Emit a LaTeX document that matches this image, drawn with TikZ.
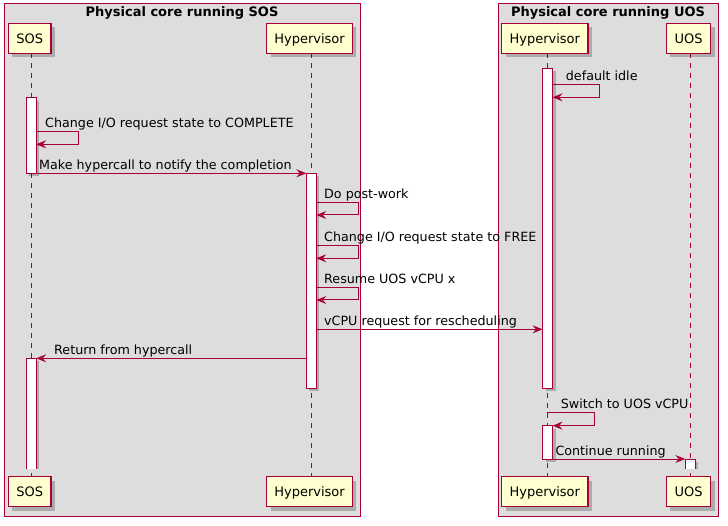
\documentclass[tikz,border=0pt]{standalone}
\usepackage{fontspec}
\setmainfont{DejaVu Sans}
\usetikzlibrary{arrows.meta}
\definecolor{puml}{HTML}{A80036}
\definecolor{pfill}{HTML}{FEFECE}
\definecolor{boxbg}{HTML}{DDDDDD}
\tikzset{
  grp/.style={draw=puml, line width=1pt, fill=boxbg},
  grptitle/.style={anchor=base, inner sep=0, font=\fontsize{13}{15}\selectfont\bfseries},
  part/.style={draw=puml, line width=1.3pt, fill=pfill, minimum height=30, inner sep=0,
     text height=10, text depth=0, font=\fontsize{13}{15}\selectfont},
  pshadow/.style={fill=black, opacity=0.22},
  lifeline/.style={draw=puml, line width=0.9pt, dash pattern=on 5pt off 5pt},
  bar/.style={draw=puml, line width=1pt, fill=white, minimum width=10, inner sep=0, outer sep=0},
  barfill/.style={fill=white, minimum width=10, inner sep=0, outer sep=0},
  msg/.style={draw=puml, line width=1pt, -{Stealth[length=10pt, width=8pt, inset=3.5pt]}},
  lbl/.style={anchor=base west, inner sep=0, font=\fontsize{12.7}{15}\selectfont},
}
\newcommand\partbox[5]{% name, cx, cy, width, text
  \fill[pshadow] ({#2-#4/2+4},{#3-15+4}) rectangle ({#2+#4/2+4},{#3+15+4});
  \node[part, minimum width=#4] (#1) at (#2,#3) {#5};
}
\newcommand\actbar[4]{% name, cx, top, bottom
  \fill[pshadow] ({#2-5+3},{#3+3}) rectangle ({#2+5+3},{#4+3});
  \node[bar, minimum height={#4-#3}] (#1) at (#2,{(#3+#4)/2}) {};
}
\newcommand\openbar[4]{% name, cx, top, bottom (no bottom edge)
  \fill[pshadow] ({#2-5+3},{#3+3}) rectangle ({#2+5+3},{#4});
  \node[barfill, minimum height={#4-#3}] (#1) at (#2,{(#3+#4)/2}) {};
  \draw[draw=puml, line width=1pt] (#1.south west) -- (#1.north west) -- (#1.north east) -- (#1.south east);
}
\begin{document}
\begin{tikzpicture}[x=1pt, y=-1pt]
\useasboundingbox[fill=white] (0,0) rectangle (728,526);

% group boxes
\path[grp] (4,4) rectangle (360,516);
\path[grp] (498.3,4) rectangle (718,516);
\node[grptitle] (t1) at (182,16.3) {Physical core running SOS};
\node[grptitle] (t2) at (608,16.3) {Physical core running UOS};

% lifelines
\coordinate (lsos) at (31.3,53);
\coordinate (lhypA) at (311.3,53);
\coordinate (lhypR) at (547.3,53);
\coordinate (luos) at (690.3,53);
\draw[lifeline] (lsos) -- (31.3,477);
\draw[lifeline] (lhypA) -- (311.3,477);
\draw[lifeline] (lhypR) -- (547.3,477);
\draw[lifeline] (luos) -- (690.3,477);

% participants
\partbox{sosT}{29.7}{38.3}{42.7}{SOS}
\partbox{hypAT}{309.5}{38.3}{85.6}{Hypervisor}
\partbox{hypRT}{544.8}{38.3}{86.3}{Hypervisor}
\partbox{uosT}{688.5}{38.3}{44.4}{UOS}
\partbox{sosB}{29.7}{491.7}{42.7}{SOS}
\partbox{hypAB}{309.5}{491.7}{85.6}{Hypervisor}
\partbox{hypRB}{544.8}{491.7}{86.3}{Hypervisor}
\partbox{uosB}{688.5}{491.7}{44.4}{UOS}

% activation bars
\actbar{sosA}{31.2}{97.7}{173.3}
\actbar{hypA}{311.3}{173.3}{388.3}
\openbar{sosC}{31.2}{358.3}{469}
\actbar{hypR1}{547.5}{68.3}{388.3}
\actbar{hypR2}{547.5}{425.7}{459}
\openbar{uosA}{690.3}{459}{469}

% messages
\draw[msg] (sosA.east |- 0,131.7) -| (78.3,144.3) -- (sosA.east |- 0,144.3);
\node[lbl] (m1) at (45,127.7) {Change I/O request state to COMPLETE};

\draw[msg] (sosA.east |- 0,173.3) -- (hypA.west |- 0,173.3);
\node[lbl] (m2) at (39,169.3) {Make hypercall to notify the completion};

\draw[msg] (hypA.east |- 0,202.7) -| (358.3,215) -- (hypA.east |- 0,215);
\node[lbl] (m3) at (324,198.7) {Do post-work};

\draw[msg] (hypA.east |- 0,245.7) -| (358.3,258.3) -- (hypA.east |- 0,258.3);
\node[lbl] (m4) at (324,241.7) {Change I/O request state to FREE};

\draw[msg] (hypA.east |- 0,287.3) -| (358.3,300) -- (hypA.east |- 0,300);
\node[lbl] (m5) at (324,283.3) {Resume UOS vCPU x};

\draw[msg] (hypA.east |- 0,329.3) -- (hypR1.west |- 0,329.3);
\node[lbl] (m6) at (324,325.3) {vCPU request for rescheduling};

\draw[msg] (hypA.west |- 0,358.3) -- (sosC.east |- 0,358.3);
\node[lbl] (m7) at (54,354.3) {Return from hypercall};

\draw[msg] (hypR1.east |- 0,84.3) -| (599.7,97.3) -- (hypR1.east |- 0,97.3);
\node[lbl] (m8) at (565.7,80.3) {default idle};

\draw[msg] (lhypR |- 0,412.3) -| (594.3,425.7) -- (hypR2.east |- 0,425.7);
\node[lbl] (m9) at (560.7,408.3) {Switch to UOS vCPU};

\draw[msg] (hypR2.east |- 0,459) -- (uosA.west |- 0,459);
\node[lbl] (m10) at (555.3,455) {Continue running};
\end{tikzpicture}
\end{document}
